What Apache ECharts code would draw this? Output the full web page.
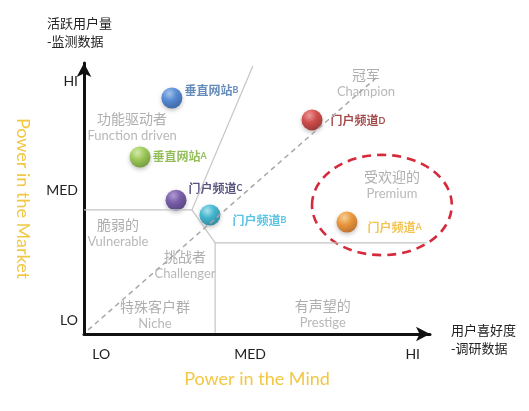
<!DOCTYPE html>
<html>
<head>
<meta charset="utf-8">
<script src="https://cdn.jsdelivr.net/npm/echarts@6/dist/echarts.min.js"></script>
<style>
html, body { margin: 0; padding: 0; background: #fff; }
#main { width: 529px; height: 411px; }
</style>
</head>
<body>
<div id="main"></div>
<script>
// 气泡：名称 + 字母 + 坐标
const siteNames = ['垂直网站', '垂直网站', '门户频道', '门户频道', '门户频道', '门户频道'];
const siteTags = ['B', 'A', 'C', 'B', 'D', 'A'];
const siteX = [25.4, 16.2, 26.6, 36.4, 65.9, 76.0];
const siteY = [87.1, 65.3, 49.4, 43.9, 79.0, 41.3];

// 区域名称
const zoneZh = ['功能驱动者', '冠军', '受欢迎的', '脆弱的', '挑战者', '特殊客户群', '有声望的'];
const zoneEn = ['Function driven', 'Champion', 'Premium', 'Vulnerable', 'Challenger', 'Niche', 'Prestige'];
const zoneX = [13.9, 81.5, 89, 9.8, 29.2, 20.5, 69];
const zoneY = [76.4, 92.6, 55, 37.3, 25.5, 7, 7.4];

// 刻度
const xTickVals = [5, 48, 95];
const yTickVals = [5, 53, 93];
const tickNames = ['LO', 'MED', 'HI'];

// 分界线
const diagLine = [[1.2, 1.5], [84.7, 94.8]];
const borderMid = [[0, 45.8], [31.2, 45.8], [37.9, 33.6], [99, 33.6]];
const borderUp = [[48.8, 98.9], [31.2, 45.8]];
const borderDown = [[37.9, 33.6], [37.9, 0.5]];

// 虚线椭圆：中心x, 中心y, 半径x, 半径y
const premiumRing = [[86.1, 47.6, 20.2, 18.5]];

// 气泡颜色（亮、中、暗）和文字颜色
const ballColors = [
  ['#9cc4f4', '#3a7bd5', '#1d4f9a'],
  ['#d8f2a4', '#92c83e', '#5e8d1c'],
  ['#a990d4', '#6543a0', '#3b2470'],
  ['#a6e9f6', '#22b0d0', '#0f7894'],
  ['#f49090', '#d2302c', '#8e1515'],
  ['#ffd490', '#f28c1c', '#b85a08']
];
const tagColors = ['#3d6ea8', '#78ae2e', '#2f2b5e', '#2fb4e0', '#8c1c1c', '#f0b429'];
const tagOffsets = [[0, -8], [0, -1], [0, -12], [10, 5], [6, 1], [8, 5]];

const latin = 'Lato, "Noto Sans CJK SC", sans-serif';
const cjk = '"Noto Sans CJK SC", Lato, sans-serif';

const chart = echarts.init(document.getElementById('main'));

const siteData = siteX.map((x, i) => ({
  value: [x, siteY[i]],
  itemStyle: {
    color: new echarts.graphic.RadialGradient(0.38, 0.3, 0.75, [
      { offset: 0, color: ballColors[i][0] },
      { offset: 0.45, color: ballColors[i][1] },
      { offset: 1, color: ballColors[i][2] }
    ])
  },
  label: {
    offset: tagOffsets[i],
    formatter: '{z|' + siteNames[i] + '}{l|' + siteTags[i] + '}',
    rich: {
      z: { fontFamily: cjk, fontSize: 12, fontWeight: 'bold', color: tagColors[i], verticalAlign: 'middle' },
      l: { fontFamily: latin, fontSize: 9, fontWeight: 'bold', color: tagColors[i], verticalAlign: 'middle' }
    }
  }
}));

const zoneData = zoneX.map((x, i) => ({
  value: [x, zoneY[i]],
  label: { formatter: '{z|' + zoneZh[i] + '}\n{e|' + zoneEn[i] + '}' }
}));

const lineStyle = { color: '#c4c4c4', width: 1.2 };

const option = {
  backgroundColor: '#fff',
  animation: false,
  title: [
    {
      text: '活跃用户量\n-监测数据',
      left: 42, top: 9,
      textStyle: { fontFamily: cjk, fontSize: 13, fontWeight: 'normal', color: '#222', lineHeight: 18 }
    },
    {
      text: '用户喜好度\n-调研数据',
      left: 446, top: 316,
      textStyle: { fontFamily: cjk, fontSize: 13, fontWeight: 'normal', color: '#222', lineHeight: 18 }
    }
  ],
  grid: { left: 84, right: 99, top: 63, bottom: 77 },
  xAxis: {
    type: 'value', min: 0, max: 100,
    name: 'Power in the Mind',
    nameLocation: 'middle', nameGap: 36,
    nameTextStyle: { fontFamily: latin, fontSize: 18, color: '#f2c744' },
    axisLine: { lineStyle: { color: '#111', width: 3 }, symbol: ['none', 'arrow'], symbolSize: [11, 14] },
    axisTick: { show: false },
    splitLine: { show: false },
    axisLabel: {
      customValues: xTickVals,
      margin: 13,
      fontFamily: latin, fontSize: 14, color: '#222',
      formatter: (v) => tickNames[xTickVals.indexOf(v)]
    }
  },
  yAxis: {
    type: 'value', min: 0, max: 100,
    name: 'Power in the Market',
    nameLocation: 'middle', nameGap: 52, nameRotate: -90,
    nameTextStyle: { fontFamily: latin, fontSize: 18, color: '#f2c744' },
    axisLine: { lineStyle: { color: '#111', width: 3 }, symbol: ['none', 'arrow'], symbolSize: [11, 14] },
    axisTick: { show: false },
    splitLine: { show: false },
    axisLabel: {
      customValues: yTickVals,
      margin: 6,
      fontFamily: latin, fontSize: 14, color: '#222',
      formatter: (v) => tickNames[yTickVals.indexOf(v)]
    }
  },
  series: [
    { type: 'line', data: borderMid, symbol: 'none', lineStyle: lineStyle, silent: true },
    { type: 'line', data: borderUp, symbol: 'none', lineStyle: lineStyle, silent: true },
    { type: 'line', data: borderDown, symbol: 'none', lineStyle: lineStyle, silent: true },
    {
      type: 'line', data: diagLine, symbol: 'none', silent: true,
      lineStyle: { color: '#a8a8a8', width: 1.5, type: [5, 4] }
    },
    {
      type: 'custom',
      data: premiumRing,
      silent: true,
      renderItem: (params, api) => {
        const c = api.coord([api.value(0), api.value(1)]);
        const s = api.size([api.value(2), api.value(3)]);
        return {
          type: 'ellipse',
          shape: { cx: c[0], cy: c[1], rx: s[0], ry: s[1] },
          style: { fill: 'none', stroke: '#d42a3c', lineWidth: 2.6, lineDash: [9, 6] }
        };
      }
    },
    {
      type: 'scatter',
      data: zoneData,
      symbolSize: 0,
      silent: true,
      label: {
        show: true,
        position: 'inside',
        lineHeight: 17,
        rich: {
          z: { fontFamily: cjk, fontSize: 14, color: '#9a9a9a', lineHeight: 17 },
          e: { fontFamily: latin, fontSize: 13, color: '#a6a6a6', lineHeight: 17 }
        }
      }
    },
    {
      type: 'scatter',
      data: siteData,
      symbolSize: 21,
      itemStyle: { shadowBlur: 4, shadowColor: 'rgba(0,0,0,0.3)', shadowOffsetY: 2 },
      label: { show: true, position: 'right', distance: 2 }
    }
  ]
};

chart.setOption(option);
</script>
</body>
</html>
